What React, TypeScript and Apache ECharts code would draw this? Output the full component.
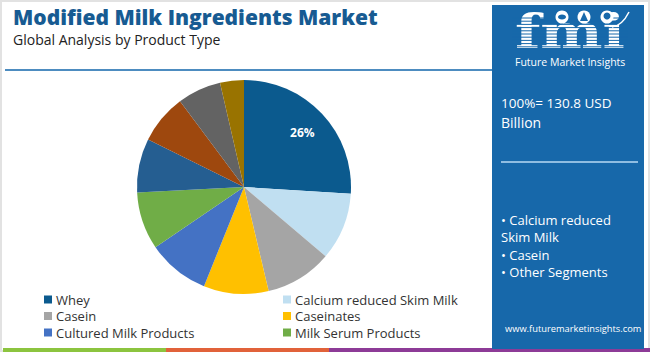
import React, { useEffect, useRef } from "react";
import * as echarts from "echarts";

const categories = [
  "Whey",
  "Calcium reduced Skim Milk",
  "Casein",
  "Caseinates",
  "Cultured Milk Products",
  "Milk Serum Products",
  "Buttermilk",
  "Milk Protein Concentrates",
  "Whey Protein Concentrates",
  "Others",
];
const shares = [26, 10.2, 10.1, 9.8, 9.4, 8.7, 8.1, 7.5, 6.6, 3.6];
const colors = [
  "#0b5a8e",
  "#c0dff1",
  "#a5a5a5",
  "#ffc000",
  "#4472c4",
  "#70ad47",
  "#255e91",
  "#9e480e",
  "#636363",
  "#997300",
];
const legendLeft = ["Whey", "Casein", "Cultured Milk Products"];
const legendRight = ["Calcium reduced Skim Milk", "Caseinates", "Milk Serum Products"];
const labelled = ["Whey"];
const titleText = "Modified Milk Ingredients Market";
const subtitleText = "Global Analysis by Product Type";
const totalLines = ["100%= 130.8 USD", "Billion"];
const bulletLines = ["• Calcium reduced", "Skim Milk", "• Casein", "• Other Segments"];
const urlText = "www.futuremarketinsights.com";

export default function App() {
  const ref = useRef<HTMLDivElement>(null);
  useEffect(() => {
    if (!ref.current) return;
    const chart = echarts.init(ref.current, undefined, { renderer: "svg" });
    const data = categories.map((name, i) => ({
      name,
      value: shares[i],
      itemStyle: { color: colors[i] },
    }));
    const labelData = categories.map((name, i) => ({
      name,
      value: shares[i],
      label: {
        show: labelled.includes(name),
        formatter: () => Math.round(shares[i]) + "%",
      },
    }));
    const legendCommon = {
      orient: "vertical" as const,
      top: 293,
      icon: "rect",
      itemWidth: 8,
      itemHeight: 8,
      itemGap: 3.5,
      textStyle: { fontFamily: "'Open Sans'", fontSize: 13, color: "#333", lineHeight: 13, padding: [0, 0, 0, -1] },
      padding: 0,
      selectedMode: false,
    };
    const blue = "#1768aa";
    const stripes: any[] = [];
    for (let y = 18; y <= 48; y += 3.2) {
      stripes.push({
        type: "line",
        shape: { x1: 512, y1: y, x2: 628, y2: y },
        style: { stroke: blue, lineWidth: 1 },
      });
    }
    chart.setOption({
      animation: false,
      backgroundColor: "#ffffff",
      legend: [
        { ...legendCommon, left: 44, data: legendLeft },
        { ...legendCommon, left: 283, data: legendRight },
      ],
      series: [
        {
          type: "pie",
          center: [244, 187],
          radius: [0, 107],
          startAngle: 90,
          clockwise: true,
          label: { show: false },
          labelLine: { show: false },
          itemStyle: { borderWidth: 0 },
          emphasis: { disabled: true },
          data,
        },
        {
          type: "pie",
          center: [244, 187],
          radius: [0, 154],
          startAngle: 90,
          clockwise: true,
          silent: true,
          itemStyle: { color: "rgba(0,0,0,0)" },
          label: {
            position: "inside",
            color: "#fff",
            fontWeight: "bold",
            fontSize: 12,
            fontFamily: "'Open Sans'",
          },
          labelLine: { show: false },
          emphasis: { disabled: true },
          data: labelData,
        },
      ],
      graphic: [
        {
          type: "rect",
          shape: { x: 1, y: 1, width: 648, height: 350 },
          style: { fill: "none", stroke: "#e2e2e2", lineWidth: 2 },
          z: 0,
        },
        {
          type: "text",
          left: 13,
          top: 6,
          style: { text: titleText, fontFamily: "'Open Sans'", fontWeight: 800, fontSize: 21, fill: "#175b92" },
        },
        {
          type: "text",
          left: 13,
          top: 32,
          style: { text: subtitleText, fontFamily: "'Open Sans'", fontSize: 14, fill: "#222" },
        },
        {
          type: "line",
          shape: { x1: 5, y1: 70, x2: 492, y2: 70 },
          style: { stroke: "#4d8cc0", lineWidth: 2 },
        },
        { type: "rect", shape: { x: 3, y: 348, width: 163, height: 4 }, style: { fill: "#8cc43f" } },
        { type: "rect", shape: { x: 166, y: 348, width: 163, height: 4 }, style: { fill: "#e1623a" } },
        { type: "rect", shape: { x: 329, y: 348, width: 321, height: 4 }, style: { fill: "#8d3b97" } },
        { type: "rect", shape: { x: 492, y: 5, width: 152, height: 344 }, style: { fill: blue } },
        {
          type: "text",
          x: 515,
          y: 31,
          scaleX: 1.28,
          style: {
            text: "fmi",
            fontFamily: "'DejaVu Serif'",
            fontWeight: "bold",
            fontSize: 46,
            lineHeight: 34,
            fill: "#fff",
            textVerticalAlign: "middle",
          },
        },
        ...stripes,
        { type: "circle", shape: { cx: 562, cy: 17, r: 6.5 }, style: { fill: "#fff" } },
        { type: "circle", shape: { cx: 584, cy: 17, r: 6.5 }, style: { fill: "#fff" } },
        { type: "circle", shape: { cx: 607, cy: 17, r: 6.5 }, style: { fill: "#fff" } },
        { type: "ellipse", shape: { cx: 562, cy: 17, rx: 4, ry: 2.5 }, style: { fill: blue } },
        { type: "polygon", shape: { points: [[584, 12], [588, 21], [580, 21]] }, style: { fill: blue } },
        { type: "circle", shape: { cx: 607, cy: 16, r: 3.5 }, style: { fill: blue } },
        {
          type: "bezierCurve",
          shape: { x1: 612, y1: 27, x2: 629, y2: 12, cpx1: 622, cpy1: 26 },
          style: { stroke: "#fff", lineWidth: 1.5, fill: "none" },
        },
        {
          type: "text",
          x: 515,
          y: 62,
          style: {
            text: "Future Market Insights",
            fontFamily: "'Open Sans'",
            fontSize: 10.5,
            fill: "#fff",
            textVerticalAlign: "middle",
          },
        },
        {
          type: "text",
          x: 501,
          y: 103,
          style: { text: totalLines[0], fontFamily: "'Open Sans'", fontSize: 13.5, fill: "#fff", textVerticalAlign: "middle" },
        },
        {
          type: "text",
          x: 501,
          y: 122.5,
          style: { text: totalLines[1], fontFamily: "'Open Sans'", fontSize: 14, fill: "#fff", textVerticalAlign: "middle" },
        },
        {
          type: "line",
          shape: { x1: 501, y1: 162, x2: 638, y2: 162 },
          style: { stroke: "#8fbde2", lineWidth: 2 },
        },
        ...bulletLines.map((t, i) => ({
          type: "text",
          x: 501,
          y: 220 + i * 17.4,
          style: { text: t, fontFamily: "'Open Sans'", fontSize: 13, fill: "#fff", textVerticalAlign: "middle" },
        })),
        {
          type: "text",
          x: 505,
          y: 328,
          style: { text: urlText, fontFamily: "'Open Sans'", fontSize: 9.3, fill: "#fff", textVerticalAlign: "middle" },
        },
      ],
    });
    return () => chart.dispose();
  }, []);
  return (
    <div
      ref={ref}
      style={{ position: "fixed", left: 0, top: 0, width: 650, height: 352 }}
    />
  );
}
